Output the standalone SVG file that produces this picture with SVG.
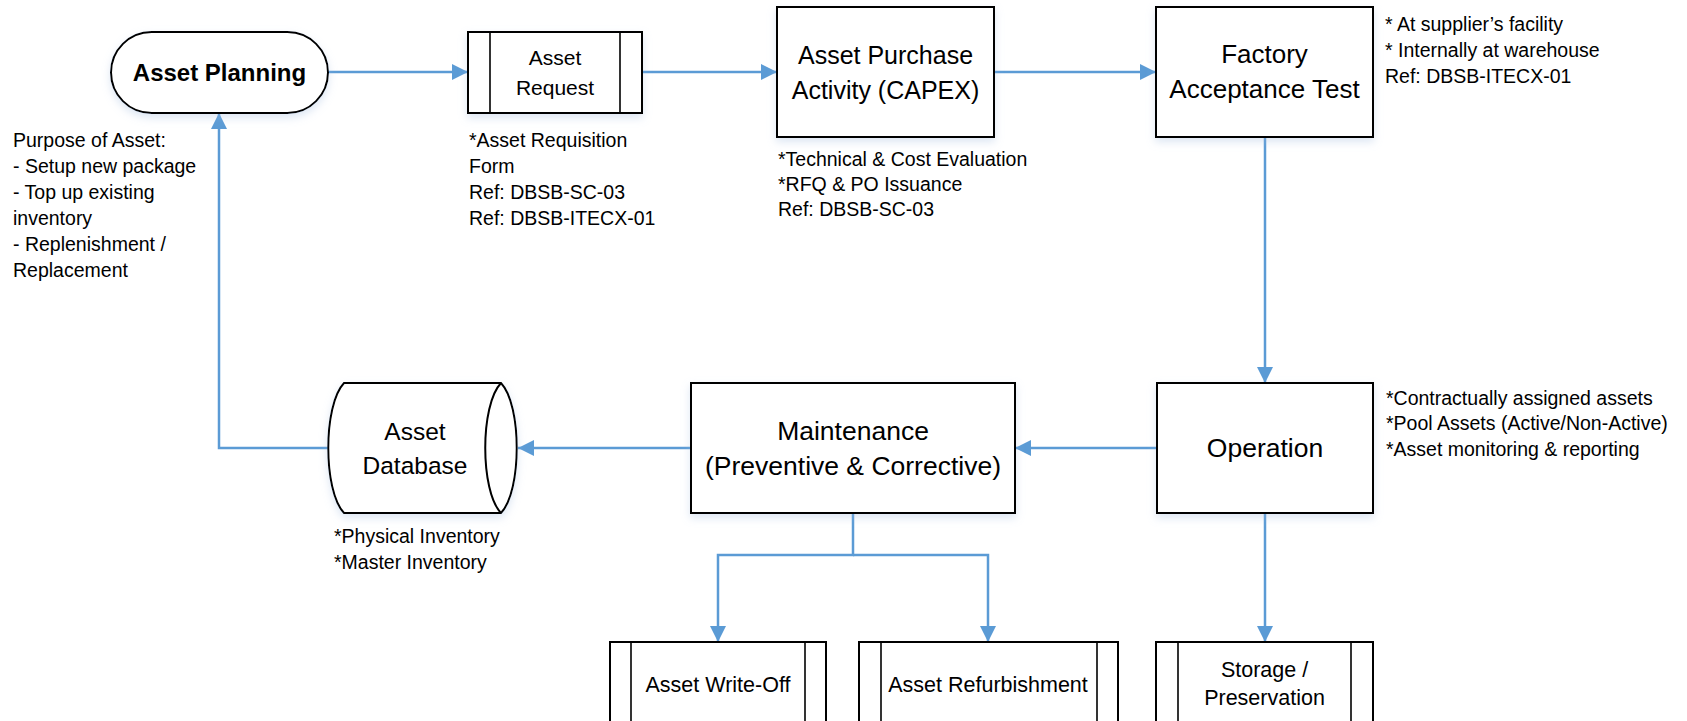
<svg xmlns="http://www.w3.org/2000/svg" width="1687" height="721" viewBox="0 0 1687 721">
<style>
.node{fill:#fff;stroke:#000;stroke-width:2}
.inner{fill:none;stroke:#000;stroke-width:1.6}
.lbl{font-family:"Liberation Sans",Arial,sans-serif;font-size:25px;fill:#000;text-anchor:middle}
.lbs{font-family:"Liberation Sans",Arial,sans-serif;font-size:21.5px;fill:#000;text-anchor:middle}
.bold{font-family:"Liberation Sans",Arial,sans-serif;font-size:24px;font-weight:bold;fill:#000;text-anchor:middle}
.note{font-family:"Liberation Sans",Arial,sans-serif;font-size:19.5px;fill:#000}
.conn{fill:none;stroke:#5B9BD5;stroke-width:2.5}
</style>
<defs>
<marker id="arr" markerUnits="userSpaceOnUse" markerWidth="18" markerHeight="18" refX="16" refY="8" orient="auto">
<path d="M0,0 L16,8 L0,16 Z" fill="#5B9BD5"/>
</marker>
<filter id="sh" x="-10%" y="-10%" width="130%" height="140%">
<feDropShadow dx="0" dy="4" stdDeviation="4" flood-color="#9DB9DE" flood-opacity="0.35"/>
</filter>
</defs>
<rect width="1687" height="721" fill="#fff"/>

<g id="connectors">
<path class="conn" d="M328,72 L468,72" marker-end="url(#arr)"/>
<path class="conn" d="M642,72 L777,72" marker-end="url(#arr)"/>
<path class="conn" d="M994,72 L1156,72" marker-end="url(#arr)"/>
<path class="conn" d="M1265,137 L1265,383" marker-end="url(#arr)"/>
<path class="conn" d="M1157,448 L1015,448" marker-end="url(#arr)"/>
<path class="conn" d="M691,448 L518,448" marker-end="url(#arr)"/>
<path class="conn" d="M328,448 L219,448 L219,113" marker-end="url(#arr)"/>
<path class="conn" d="M853,513 L853,555 L718,555 L718,642" marker-end="url(#arr)"/>
<path class="conn" d="M853,555 L988,555 L988,642" marker-end="url(#arr)"/>
<path class="conn" d="M1265,513 L1265,642" marker-end="url(#arr)"/>
</g>

<g id="asset-planning">
<rect class="node" x="111" y="32" width="217" height="81" rx="40.5" filter="url(#sh)"/>
<text class="bold" x="219.5" y="81">Asset Planning</text>
</g>

<g id="asset-request">
<rect class="node" x="468" y="32" width="174" height="81" filter="url(#sh)"/>
<line class="inner" x1="490" y1="32" x2="490" y2="113"/>
<line class="inner" x1="620" y1="32" x2="620" y2="113"/>
<text class="lbs" x="555" y="65" style="font-size:21px">Asset</text>
<text class="lbs" x="555" y="95" style="font-size:21px">Request</text>
</g>

<g id="asset-purchase">
<rect class="node" x="777" y="7" width="217" height="130" filter="url(#sh)"/>
<text class="lbl" x="885.5" y="64">Asset Purchase</text>
<text class="lbl" x="885.5" y="99">Activity (CAPEX)</text>
</g>

<g id="factory-acceptance">
<rect class="node" x="1156" y="7" width="217" height="130" filter="url(#sh)"/>
<text class="lbl" x="1264.5" y="63" style="font-size:26px">Factory</text>
<text class="lbl" x="1264.5" y="98" style="font-size:26px">Acceptance Test</text>
</g>

<g id="operation">
<rect class="node" x="1157" y="383" width="216" height="130" filter="url(#sh)"/>
<text class="lbl" x="1265" y="457" style="font-size:26.5px">Operation</text>
</g>

<g id="maintenance">
<rect class="node" x="691" y="383" width="324" height="130" filter="url(#sh)"/>
<text class="lbl" x="853" y="440" style="font-size:26.5px">Maintenance</text>
<text class="lbl" x="853" y="475" style="font-size:26.5px">(Preventive &amp; Corrective)</text>
</g>

<g id="asset-database">
<path class="node" d="M344,383 L501,383 C522,405 522,491 501,513 L344,513 C323,491 323,405 344,383 Z" filter="url(#sh)"/>
<path class="inner" style="stroke-width:2" d="M501,383 C480,405 480,491 501,513"/>
<text class="lbl" x="415" y="440" style="font-size:24.5px">Asset</text>
<text class="lbl" x="415" y="474" style="font-size:24.5px">Database</text>
</g>

<g id="asset-write-off">
<rect class="node" x="610" y="642" width="216" height="90"/>
<line class="inner" x1="631" y1="642" x2="631" y2="721"/>
<line class="inner" x1="805" y1="642" x2="805" y2="721"/>
<text class="lbs" x="718" y="692">Asset Write-Off</text>
</g>

<g id="asset-refurbishment">
<rect class="node" x="859" y="642" width="259" height="90"/>
<line class="inner" x1="881" y1="642" x2="881" y2="721"/>
<line class="inner" x1="1097" y1="642" x2="1097" y2="721"/>
<text class="lbs" x="988" y="692">Asset Refurbishment</text>
</g>

<g id="storage-preservation">
<rect class="node" x="1156" y="642" width="217" height="90"/>
<line class="inner" x1="1178" y1="642" x2="1178" y2="721"/>
<line class="inner" x1="1351" y1="642" x2="1351" y2="721"/>
<text class="lbs" x="1264.5" y="677">Storage /</text>
<text class="lbs" x="1264.5" y="705">Preservation</text>
</g>

<g id="notes">
<text class="note" x="13" y="147">Purpose of Asset:</text>
<text class="note" x="13" y="173">- Setup new package</text>
<text class="note" x="13" y="199">- Top up existing</text>
<text class="note" x="13" y="225">inventory</text>
<text class="note" x="13" y="251">- Replenishment /</text>
<text class="note" x="13" y="277">Replacement</text>

<text class="note" x="469" y="147">*Asset Requisition</text>
<text class="note" x="469" y="173">Form</text>
<text class="note" x="469" y="199">Ref: DBSB-SC-03</text>
<text class="note" x="469" y="225">Ref: DBSB-ITECX-01</text>

<text class="note" x="778" y="166">*Technical &amp; Cost Evaluation</text>
<text class="note" x="778" y="191">*RFQ &amp; PO Issuance</text>
<text class="note" x="778" y="216">Ref: DBSB-SC-03</text>

<text class="note" x="1385" y="31">* At supplier’s facility</text>
<text class="note" x="1385" y="57">* Internally at warehouse</text>
<text class="note" x="1385" y="83">Ref: DBSB-ITECX-01</text>

<text class="note" x="1386" y="405">*Contractually assigned assets</text>
<text class="note" x="1386" y="430">*Pool Assets (Active/Non-Active)</text>
<text class="note" x="1386" y="456">*Asset monitoring &amp; reporting</text>

<text class="note" x="334" y="543">*Physical Inventory</text>
<text class="note" x="334" y="569">*Master Inventory</text>
</g>
</svg>
